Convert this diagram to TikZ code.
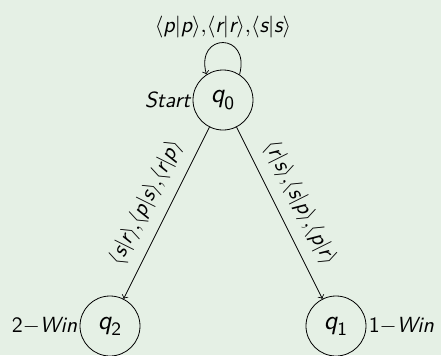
\documentclass[tikz,border=0pt]{standalone}
\usepackage{amsmath}
\definecolor{bg}{RGB}{229,240,229}
\newcommand\mv[1]{\textsf{\itshape #1}}
\newcommand\dg[1]{\textsf{#1}}
\begin{document}
\begin{tikzpicture}[x=0.5pt,y=-0.5pt,
  font=\fontsize{10.95}{13}\selectfont,
  state/.style={circle,draw,minimum size=30pt,inner sep=0pt,font=\fontsize{13.5}{16}\selectfont},
  lab/.style={font=\fontsize{11.3}{13}\selectfont},
  every label/.style={font=\fontsize{10.95}{13}\selectfont,inner sep=1pt},
  >=to]
\fill[bg] (0,0) rectangle (441,355);
\useasboundingbox (0,0) rectangle (441,355);
\node[state,label=left:$\mv{Start}$] (q0) at (223,100) {$\mv{q}_{\dg{0}}$};
\node[state,label=left:$\dg{2}{-}\mv{Win}$] (q2) at (110,326) {$\mv{q}_{\dg{2}}$};
\node[state,label=right:$\dg{1}{-}\mv{Win}$] (q1) at (336,326) {$\mv{q}_{\dg{1}}$};
\draw[->] (q0) -- node[above=2.5pt,sloped,lab] {$\langle\mv{s}|\mv{r}\rangle{,}\langle\mv{p}|\mv{s}\rangle{,}\langle\mv{r}|\mv{p}\rangle$} (q2);
\draw[->] (q0) -- node[above=2.5pt,sloped,lab] {$\langle\mv{r}|\mv{s}\rangle{,}\langle\mv{s}|\mv{p}\rangle{,}\langle\mv{p}|\mv{r}\rangle$} (q1);
\draw[->] (q0.57) .. controls +(75:22pt) and +(105:22pt) .. node[above=-1pt,lab] {$\langle\mv{p}|\mv{p}\rangle{,}\langle\mv{r}|\mv{r}\rangle{,}\langle\mv{s}|\mv{s}\rangle$} (q0.123);
\end{tikzpicture}
\end{document}
